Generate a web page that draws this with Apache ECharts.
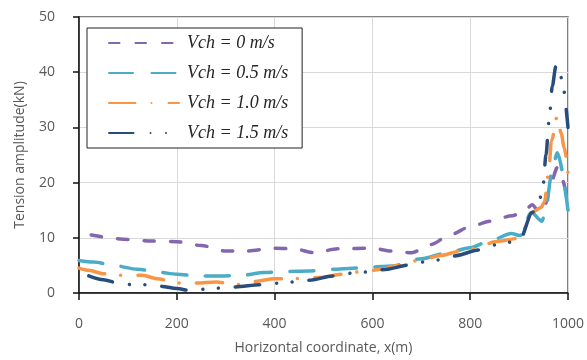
<!DOCTYPE html>
<html>
<head>
<meta charset="utf-8">
<script src="https://cdn.jsdelivr.net/npm/echarts@6/dist/echarts.min.js"></script>
<style>
  html, body { margin: 0; padding: 0; background: #fff; }
  #chart { width: 587px; height: 360px; }
</style>
</head>
<body>
<div id="chart"></div>
<script>
// Tension amplitude along the horizontal coordinate for four current speeds
const seriesNames = ['Vch = 0 m/s', 'Vch = 0.5 m/s', 'Vch = 1.0 m/s', 'Vch = 1.5 m/s'];

const vch0 = [
  [25, 10.5], [100, 9.7], [150, 9.4], [200, 9.3], [250, 8.6], [300, 7.6], [340, 7.6],
  [400, 8.1], [440, 8.0], [480, 7.3], [530, 8.0], [600, 8.1], [640, 7.6], [680, 7.3],
  [720, 8.8], [760, 10.6], [800, 12.0], [840, 13.0], [886, 14.0], [910, 14.8], [927, 16.0],
  [941, 14.6], [952, 15.8], [967, 20.5], [978, 22.7], [988, 20.5], [1000, 16.5]
];
const vch05 = [
  [0, 5.9], [30, 5.6], [70, 5.0], [120, 4.3], [160, 3.8], [200, 3.4], [240, 3.1], [290, 3.1],
  [330, 3.2], [380, 3.7], [420, 3.9], [470, 4.0], [520, 4.3], [560, 4.5], [600, 4.7], [640, 4.9],
  [700, 6.2], [750, 7.2], [800, 8.2], [840, 9.4], [884, 10.8], [902, 10.4], [925, 14.6],
  [947, 13.0], [955, 15.7], [967, 21.8], [978, 25.4], [1000, 15.0]
];
const vch10 = [
  [0, 4.5], [20, 4.1], [50, 3.5], [80, 3.2], [130, 3.2], [160, 2.6], [200, 1.8], [240, 1.8],
  [280, 2.0], [320, 1.5], [360, 2.1], [400, 2.6], [440, 2.6], [490, 2.8], [540, 3.4], [580, 3.9],
  [620, 4.3], [650, 5.0], [700, 6.0], [740, 6.8], [780, 7.6], [820, 8.3], [850, 9.3], [900, 9.9],
  [915, 12.0], [927, 14.6], [945, 15.5], [952, 16.5], [961, 22.5], [966, 27.5], [978, 32.0],
  [986, 29.0], [992, 26.4], [1000, 21.8]
];
const vch15 = [
  [20, 3.1], [50, 2.4], [80, 1.8], [110, 1.5], [140, 1.5], [170, 1.2], [200, 0.8], [230, 0.4],
  [260, 0.7], [290, 0.9], [320, 1.1], [370, 1.5], [410, 1.8], [440, 2.0], [470, 2.3], [520, 3.1],
  [560, 3.6], [590, 3.8], [620, 4.2], [680, 5.1], [700, 5.6], [735, 6.0], [765, 6.7], [820, 7.8],
  [850, 8.7], [880, 9.2], [902, 9.8], [927, 14.6], [941, 16.6], [949, 19.5], [955, 25.0],
  [961, 31.0], [968, 37.5], [975, 41.0], [982, 41.3], [988, 38.3], [1000, 30.0]
];

const xTicks = { min: 0, max: 1000, interval: 200 };
const yTicks = { min: 0, max: 50, interval: 10 };

const colors = ['#8366AE', '#4BACC6', '#F79646', '#284C7C'];
// dash patterns (round caps extend each dash by half the line width at both ends)
const dashes = [
  [10.5, 16],
  [24, 18.5],
  [26.5, 16, 0.01, 17],
  [24.5, 17, 0.01, 15.5, 0.01, 17]
];
const datasets = [vch0, vch05, vch10, vch15];

const chart = echarts.init(document.getElementById('chart'), null, { renderer: 'canvas' });

const axisText = { color: '#595959', fontFamily: 'Open Sans', fontSize: 14 };

chart.setOption({
  animation: false,
  backgroundColor: '#fff',
  grid: {
    left: 79, right: 18, top: 17, bottom: 66,
    show: true, borderColor: '#5a5a5a', borderWidth: 1.5
  },
  legend: {
    data: seriesNames,
    orient: 'vertical',
    left: 87, top: 28,
    padding: [6, 14, 6, 21],
    itemWidth: 70, itemHeight: 14, itemGap: 12,
    borderColor: '#222', borderWidth: 1,
    backgroundColor: '#fff',
    itemStyle: { opacity: 0 },
    textStyle: {
      fontFamily: 'Liberation Serif', fontStyle: 'italic', fontSize: 18, lineHeight: 18,
      color: '#262626', padding: [0, 0, 0, 3]
    }
  },
  xAxis: {
    type: 'value',
    min: xTicks.min, max: xTicks.max, interval: xTicks.interval,
    name: 'Horizontal coordinate, x(m)',
    nameLocation: 'middle', nameGap: 48,
    nameTextStyle: axisText,
    axisLine: { show: true, onZero: false, lineStyle: { color: '#111', width: 1.5 } },
    axisTick: { show: true, inside: false, length: 7, lineStyle: { color: '#111', width: 1.5 } },
    axisLabel: Object.assign({ margin: 24, formatter: v => String(v) }, axisText),
    splitLine: { show: true, lineStyle: { color: '#d9d9d9', width: 1 } }
  },
  yAxis: {
    type: 'value',
    min: yTicks.min, max: yTicks.max, interval: yTicks.interval,
    name: 'Tension amplitude(kN)',
    nameLocation: 'middle', nameGap: 52,
    nameTextStyle: axisText,
    axisLine: { show: true, onZero: false, lineStyle: { color: '#111', width: 1.5 } },
    axisTick: { show: true, inside: false, length: 6, lineStyle: { color: '#111', width: 1.5 } },
    axisLabel: Object.assign({ margin: 24 }, axisText),
    splitLine: { show: true, lineStyle: { color: '#d9d9d9', width: 1 } }
  },
  series: datasets.map((d, i) => ({
    name: seriesNames[i],
    type: 'line',
    data: d,
    symbol: 'none',
    smooth: 0.3,
    smoothMonotone: 'x',
    color: colors[i],
    lineStyle: { color: colors[i], width: 3.5, type: dashes[i], cap: 'round', join: 'round' },
    z: 2 + i
  }))
});
</script>
</body>
</html>
